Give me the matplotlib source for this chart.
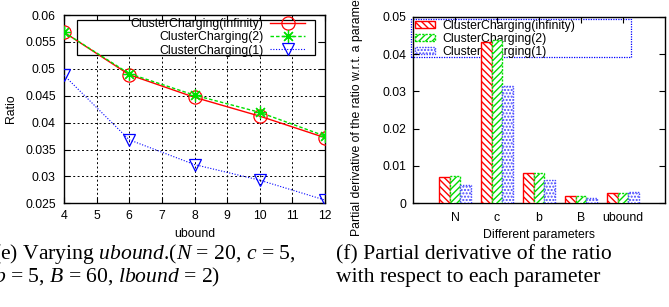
import numpy as np
import matplotlib
matplotlib.use('Agg')
from matplotlib import pyplot as plt
from matplotlib.patches import Rectangle

plt.rcParams['font.family'] = ['Liberation Sans', 'DejaVu Sans']
plt.rcParams['font.size'] = 8.8
plt.rcParams['mathtext.fontset'] = 'custom'
plt.rcParams['mathtext.rm'] = 'Liberation Serif'
plt.rcParams['mathtext.it'] = 'Liberation Serif:italic'
plt.rcParams['hatch.linewidth'] = 1.0

# (e) ratio vs ubound
ubound = [4, 6, 8, 10, 12]
ratio_inf = [0.0568, 0.0489, 0.0447, 0.0412, 0.0372]
ratio_2 = [0.0568, 0.0491, 0.0451, 0.0419, 0.0375]
ratio_1 = [0.0488, 0.0368, 0.0322, 0.0293, 0.0256]
xticks_e = [4, 5, 6, 7, 8, 9, 10, 11, 12]
yticks_e = [0.025, 0.03, 0.035, 0.04, 0.045, 0.05, 0.055, 0.06]
ylabels_e = ['0.025', '0.03', '0.035', '0.04', '0.045', '0.05', '0.055', '0.06']

# (f) partial derivatives
params = ['N', 'c', 'b', 'B', 'ubound']
deriv_inf = [0.0070, 0.0433, 0.0080, 0.0019, 0.0027]
deriv_2 = [0.0073, 0.0438, 0.0081, 0.0019, 0.0027]
deriv_1 = [0.0049, 0.0314, 0.0062, 0.0014, 0.0030]
yticks_f = [0, 0.01, 0.02, 0.03, 0.04, 0.05]
ylabels_f = ['0', '0.01', '0.02', '0.03', '0.04', '0.05']

names = ['ClusterCharging(infinity)', 'ClusterCharging(2)', 'ClusterCharging(1)']

fig = plt.figure(figsize=(6.69, 3.07), dpi=100)

# ---- left chart ----
ax1 = fig.add_axes([64/669, 1-203.3/307, 261/669, 188.3/307])
ax1.plot(ubound, ratio_inf, color='red', lw=1, marker='o', ms=9.5, mfc='none',
         mew=0.9, label=names[0], zorder=3)
ax1.plot(ubound, ratio_2, color='#00e000', lw=1, ls=(0, (2.5, 1.5)), marker=(8, 2, 0),
         ms=9, mew=0.9, label=names[1], zorder=3)
ax1.plot(ubound, ratio_1, color='blue', lw=0.8, ls=(0, (1, 1.5)), marker='v', ms=9,
         mfc='none', mew=0.9, label=names[2], zorder=3)
ax1.set_xlim(4, 12)
ax1.set_ylim(0.025, 0.06)
ax1.set_xticks(xticks_e)
ax1.set_yticks(yticks_e)
ax1.set_yticklabels(ylabels_e)
ax1.grid(True, color='black', ls=(0, (2, 2.5)), lw=0.7)
ax1.set_axisbelow(True)
ax1.tick_params(direction='in', top=True, right=True, length=4, width=0.8)
ax1.tick_params(axis='y', pad=6)
ax1.tick_params(axis='x', pad=5)
ax1.set_xlabel('ubound', labelpad=4)
ax1.set_ylabel('Ratio', labelpad=6)
for s in ax1.spines.values():
    s.set_linewidth(1)

# legend box sits over the grid but under the curves
box1 = Rectangle((0.05, 0.787), 0.912, 0.186, transform=ax1.transAxes,
                 facecolor='white', edgecolor='black', lw=0.9, zorder=2.4)
ax1.add_patch(box1)
leg1 = ax1.legend(loc='upper right', bbox_to_anchor=(0.933, 0.996), markerfirst=False,
                  frameon=False, borderaxespad=0, borderpad=0.2, labelspacing=0.1,
                  handlelength=2.85, handletextpad=0.57)
leg1.set_zorder(2.5)

# ---- right chart ----
ax2 = fig.add_axes([413/669, 1-203.3/307, 252/669, 186.6/307])
x = np.arange(1, len(params) + 1)
w = 0.25
ax2.bar(x - w, deriv_inf, w, facecolor='white', edgecolor='red', hatch='\\\\\\\\\\',
        lw=1, label=names[0], zorder=3)
ax2.bar(x, deriv_2, w, facecolor='white', edgecolor='#00dd00', hatch='/////',
        lw=1, ls=(0, (1.5, 1)), label=names[1], zorder=3)
ax2.bar(x + w, deriv_1, w, facecolor='white', edgecolor='#4848ff', hatch='.....',
        lw=1, ls=(0, (1, 1)), label=names[2], zorder=3)
ax2.set_xlim(0, 6)
ax2.set_ylim(0, 0.05)
ax2.set_xticks(x)
ax2.set_xticklabels(params)
ax2.set_yticks(yticks_f)
ax2.set_yticklabels(ylabels_f)
ax2.tick_params(direction='in', top=True, right=True, length=4, width=0.8)
ax2.tick_params(axis='y', pad=5)
ax2.tick_params(axis='x', pad=6)
ax2.set_xlabel('Different parameters', labelpad=4)
ax2.set_ylabel('Partial derivative of the ratio w.r.t. a parameter', labelpad=13.5)
for s in ax2.spines.values():
    s.set_linewidth(1)

box2 = Rectangle((-0.008, 0.784), 0.873, 0.204, transform=ax2.transAxes,
                 facecolor='none', edgecolor='blue', lw=0.9, ls=(0, (1, 1)),
                 clip_on=False, zorder=1)
ax2.add_patch(box2)
leg2 = ax2.legend(loc='upper left', bbox_to_anchor=(0.0, 0.997), frameon=False,
                  borderaxespad=0, borderpad=0.2, labelspacing=0.1,
                  handlelength=1.6, handleheight=0.5, handletextpad=0.6)
leg2.set_zorder(1)

# ---- captions ----
cap = dict(fontsize=15.6, family='Liberation Serif', va='baseline', ha='left')
fig.text(-7/669, 1-259/307, r'(e) Varying $ubound$.($N$ = 20, $c$ = 5,', **cap)
fig.text(-6/669, 1-282/307, r'$b$ = 5, $B$ = 60, $lbound$ = 2)', **cap)
fig.text(336/669, 1-259/307, '(f) Partial derivative of the ratio', **cap)
fig.text(336/669, 1-282/307, 'with respect to each parameter', **cap)

plt.savefig('out.png', dpi=100)
